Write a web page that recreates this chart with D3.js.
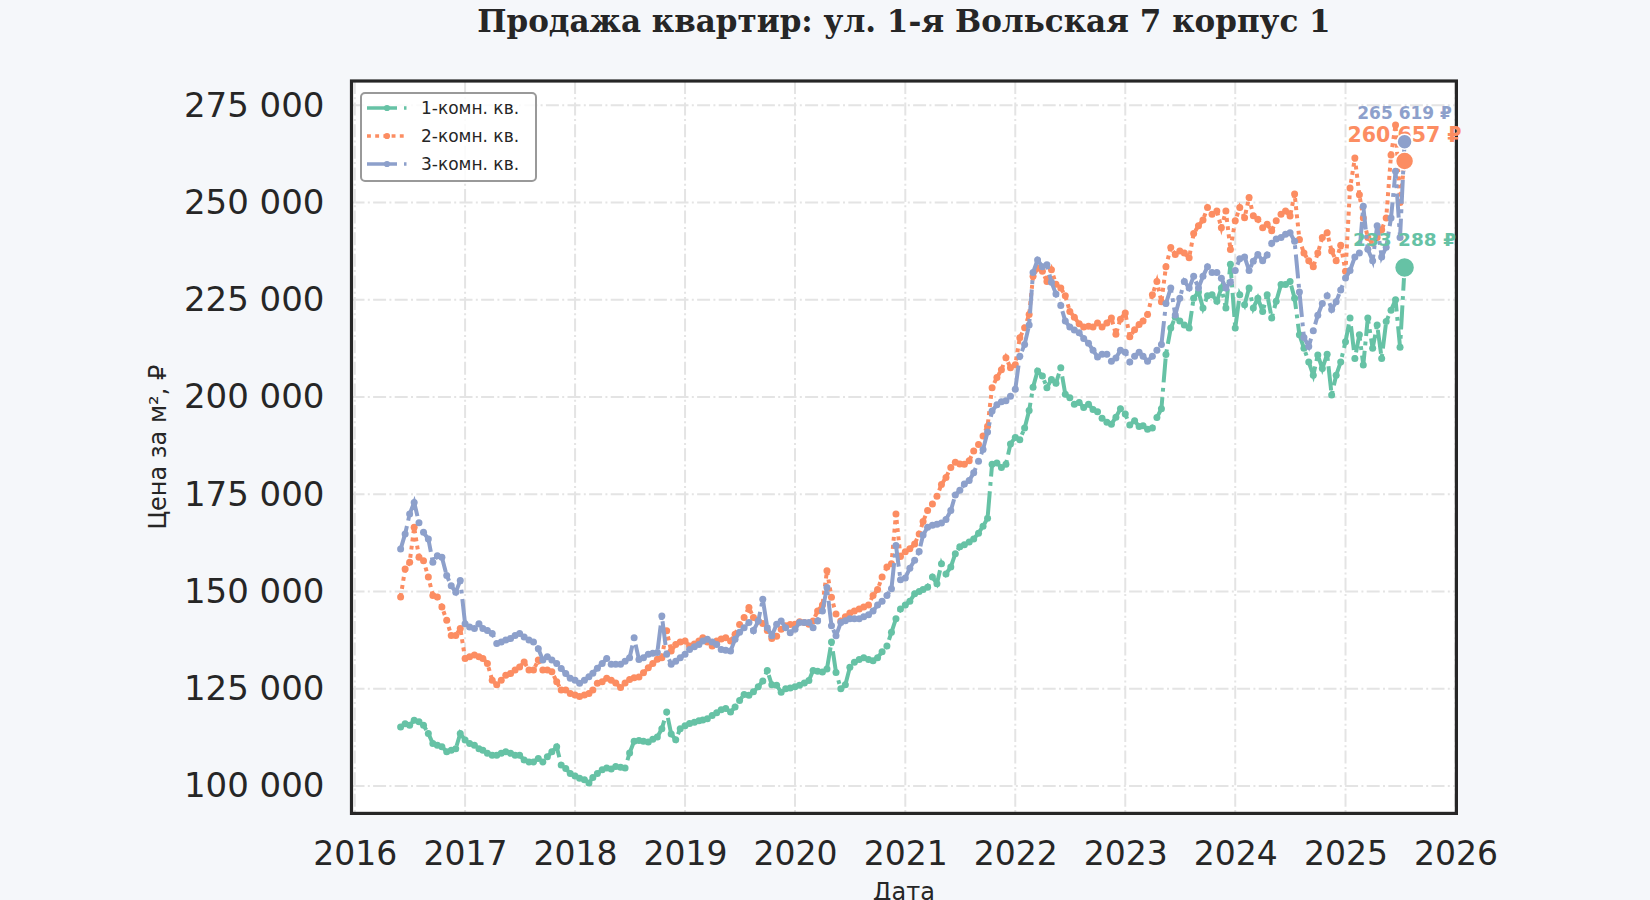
<!DOCTYPE html>
<html lang="ru">
<head>
<meta charset="utf-8">
<script src="https://cdn.jsdelivr.net/npm/d3@7"></script>
<style>
  html, body { margin: 0; padding: 0; background: #f5f7fa; }
  svg { display: block; }
</style>
</head>
<body>
<div id="chart"></div>
<script>
// --- Data (price per m², thousand ₽, sampled on the 1st and 16th of each month) ---
const TITLE = "Продажа квартир: ул. 1-я Вольская 7 корпус 1";
const firstMonth = [2016, 5]; // June 2016
const lastMonth = [2025, 6];  // July 2025

const seriesNames = ["1-комн. кв.", "2-комн. кв.", "3-комн. кв."];

const oneRoom = [
  // 2016
  115.2, 116.0, 115.6, 116.9, 116.5, 115.6, 113.5, 110.9, 110.5, 110.1, 108.8, 109.2, 109.6, 113.5,
  // 2017
  111.8, 110.9, 110.5, 109.6, 109.2, 108.4, 107.9, 107.9, 108.4, 108.8, 108.4, 107.9,
  107.9, 106.7, 106.2, 106.2, 107.1, 106.2, 107.5, 108.8, 110.1, 105.4, 104.5, 103.2,
  // 2018
  102.6, 102.0, 101.6, 100.8, 102.2, 103.2, 104.2, 104.6, 104.4, 105.0, 104.8, 104.6,
  108.5, 111.5, 111.7, 111.5, 111.3, 112.0, 112.6, 114.7, 119.0, 113.4, 111.9, 114.7,
  // 2019
  115.5, 116.1, 116.4, 116.8, 117.0, 117.3, 118.1, 118.8, 119.6, 119.9, 119.0, 120.3,
  122.0, 123.5, 123.3, 124.2, 125.5, 127.0, 129.7, 126.0, 125.9, 124.1, 125.0, 125.2,
  // 2020
  125.5, 125.9, 126.5, 127.1, 129.7, 129.5, 129.3, 130.1, 137.0, 129.2, 125.0, 126.0,
  130.5, 131.8, 132.5, 133.0, 132.5, 132.2, 133.0, 134.5, 136.0, 139.5, 143.0, 145.5,
  // 2021
  146.5, 147.5, 149.4, 150.0, 150.5, 151.1, 153.7, 152.0, 157.1, 154.5, 156.3, 159.7,
  161.5, 162.0, 162.7, 163.5, 165.0, 166.8, 168.8, 182.7, 183.0, 181.9, 182.7, 187.9,
  // 2022
  189.6, 189.0, 192.0, 196.5, 202.5, 206.7, 205.4, 202.4, 204.5, 203.5, 207.5, 200.7,
  199.8, 198.1, 198.6, 197.3, 198.1, 196.8, 196.2, 194.5, 193.5, 193.0, 194.8, 197.0,
  // 2023
  195.6, 192.8, 193.9, 192.4, 192.6, 191.7, 192.0, 194.7, 197.0, 210.9, 217.7, 220.5,
  219.5, 218.5, 217.7, 225.4, 227.0, 222.9, 226.0, 226.3, 224.6, 228.0, 222.9, 234.1,
  // 2024
  217.7, 226.3, 223.7, 228.0, 222.9, 225.4, 222.0, 226.3, 220.3, 224.6, 228.9, 228.9,
  229.7, 225.4, 216.0, 212.5, 209.0, 205.6, 210.8, 207.3, 211.0, 200.5, 205.6, 209.0,
  // 2025
  214.2, 220.3, 209.9, 216.0, 208.2, 220.3, 212.5, 218.5, 209.9, 219.4, 222.3, 225.0, 212.8, 233.288
];

const twoRoom = [
  // 2016
  148.6, 155.8, 157.5, 166.5, 158.8, 157.9, 153.7, 149.0, 148.6, 146.0, 142.6, 138.7, 138.7, 140.5,
  // 2017
  132.8, 133.2, 133.7, 133.2, 132.8, 131.5, 127.2, 126.0, 127.2, 128.5, 128.9, 129.8,
  130.6, 131.9, 129.8, 129.8, 132.4, 129.8, 129.8, 129.4, 126.8, 124.7, 124.7, 123.8,
  // 2018
  123.4, 123.0, 123.4, 123.8, 124.7, 126.4, 126.8, 127.7, 127.2, 126.5, 125.3, 126.5,
  127.4, 127.8, 128.0, 129.1, 130.4, 131.5, 132.6, 133.0, 139.9, 134.7, 136.4, 137.0,
  // 2019
  137.3, 136.0, 136.5, 137.3, 138.1, 137.0, 136.0, 137.3, 137.8, 138.1, 137.3, 139.0,
  141.5, 143.3, 145.9, 143.3, 142.4, 141.8, 140.0, 137.9, 138.5, 140.3, 141.2, 141.5,
  // 2020
  141.6, 142.2, 142.0, 141.6, 142.4, 145.0, 146.5, 155.3, 148.5, 144.2, 142.4, 143.5,
  144.5, 145.0, 145.5, 146.0, 146.5, 149.0, 150.5, 153.7, 156.3, 157.1, 169.9, 159.0,
  // 2021
  160.2, 161.0, 162.2, 164.8, 168.0, 170.8, 172.5, 174.5, 177.5, 179.3, 181.9, 183.2,
  182.8, 182.7, 183.6, 186.1, 187.8, 190.0, 192.5, 202.4, 205.0, 207.0, 210.1, 207.5,
  // 2022
  208.3, 215.2, 217.8, 221.2, 231.0, 233.1, 232.3, 229.7, 232.7, 229.0, 228.0, 226.0,
  222.0, 220.5, 218.8, 218.0, 218.2, 218.0, 219.0, 218.0, 219.0, 220.3, 216.1, 220.0,
  // 2023
  221.6, 215.5, 217.3, 218.6, 219.5, 221.2, 226.3, 229.7, 224.5, 233.5, 238.4, 236.6,
  237.5, 237.0, 235.8, 242.0, 244.0, 245.5, 248.7, 247.0, 247.8, 243.5, 247.8, 237.9,
  // 2024
  245.3, 248.7, 246.1, 251.3, 246.6, 245.7, 243.5, 244.4, 242.7, 245.3, 247.0, 247.8,
  246.5, 252.2, 240.5, 237.0, 235.0, 233.5, 237.0, 241.0, 242.2, 237.5, 235.0, 239.0,
  // 2025
  232.3, 253.7, 261.4, 252.0, 246.0, 241.0, 239.5, 241.0, 243.0, 246.0, 262.2, 269.9, 250.0, 260.657
];

const threeRoom = [
  // 2016
  160.9, 164.8, 169.9, 172.9, 167.7, 165.2, 163.5, 157.5, 159.2, 158.8, 154.1, 151.5, 149.8, 152.8,
  // 2017
  141.7, 140.9, 140.5, 141.7, 140.5, 140.0, 139.2, 136.6, 137.0, 137.5, 137.9, 138.7,
  139.2, 138.3, 137.5, 137.0, 135.3, 132.4, 133.2, 132.4, 131.5, 130.2, 128.9, 127.7,
  // 2018
  127.2, 126.4, 127.2, 128.1, 129.0, 130.3, 131.5, 132.8, 131.3, 131.3, 131.3, 132.1,
  133.0, 138.1, 132.5, 133.0, 133.9, 134.1, 134.3, 143.7, 133.9, 131.3, 132.1, 133.0,
  // 2019
  133.9, 135.1, 135.8, 136.4, 137.3, 137.7, 137.0, 136.4, 135.1, 134.9, 134.7, 137.7,
  139.5, 140.7, 142.0, 139.9, 142.4, 148.0, 140.7, 138.6, 141.6, 142.4, 140.7, 139.4,
  // 2020
  140.3, 142.0, 142.0, 142.0, 140.7, 142.4, 145.0, 151.0, 141.2, 138.6, 142.0, 142.5,
  143.0, 143.0, 143.0, 143.5, 144.0, 145.0, 146.5, 147.5, 149.0, 150.7, 161.8, 153.0,
  // 2021
  153.5, 156.0, 158.0, 160.3, 164.5, 166.5, 167.0, 167.3, 167.6, 168.5, 170.8, 174.8,
  176.0, 177.6, 178.5, 180.5, 183.5, 186.5, 191.0, 196.4, 198.0, 198.8, 199.0, 200.2,
  // 2022
  202.0, 210.5, 213.5, 218.5, 232.0, 235.2, 233.5, 234.0, 229.5, 226.5, 223.5, 219.5,
  218.0, 217.2, 216.5, 215.0, 213.8, 212.0, 210.3, 211.0, 211.0, 209.2, 210.0, 212.0,
  // 2023
  211.5, 209.0, 210.5, 211.5, 210.5, 209.2, 210.5, 212.0, 213.5, 224.0, 228.0, 221.1,
  225.4, 229.7, 228.0, 231.0, 228.0, 231.0, 233.5, 232.0, 232.0, 230.5, 228.0, 229.5,
  // 2024
  232.5, 235.5, 236.0, 232.5, 234.9, 236.6, 235.0, 236.5, 239.5, 240.6, 241.0, 241.8,
  242.2, 240.0, 227.0, 215.3, 213.0, 217.0, 221.0, 224.0, 226.0, 222.5, 224.5, 227.5,
  // 2025
  230.6, 232.5, 236.0, 237.0, 249.0, 238.0, 235.0, 244.0, 236.0, 238.5, 246.0, 258.0, 241.0, 265.619
];

const yTicks = [100000, 125000, 150000, 175000, 200000, 225000, 250000, 275000];
const xTickYears = [2016, 2017, 2018, 2019, 2020, 2021, 2022, 2023, 2024, 2025, 2026];

// --- Styles ---
const colors = ["#66c2a5", "#fc8d62", "#8da0cb"];
const dashes = ["24,5.5,3.8,5.5", "3.9,4.3", "24,5.5,3.8,5.5"];
const legendDashes = ["30,7,2.5,7", "3.9,4.3", "30,7,2.5,7"];
const endFont = [18.5, 20.5, 17];
const endRadius = [10, 9, 7.5];
const endOffset = [21, 19, 23];
const lineWidth = 4;
const markerR = 3.5;

const width = 1650;
const height = 900;
const margin = { top: 81, right: 193.6, bottom: 86.6, left: 351.5 };
const innerWidth = width - margin.left - margin.right;
const innerHeight = height - margin.top - margin.bottom;

// sampling dates: 1st and 16th of every month
const dates = [];
d3.timeMonth
  .range(new Date(firstMonth[0], firstMonth[1], 1), new Date(lastMonth[0], lastMonth[1] + 1, 1))
  .forEach((m) => {
    dates.push(m);
    dates.push(d3.timeDay.offset(m, 15));
  });

const allData = [oneRoom, twoRoom, threeRoom].map((vals, i) => ({
  name: seriesNames[i],
  values: vals.map((v, j) => ({ date: dates[j], price: v * 1000 })),
}));

const svg = d3
  .select("#chart")
  .append("svg")
  .attr("width", width)
  .attr("height", height);

svg.append("rect").attr("width", width).attr("height", height).attr("fill", "#f5f7fa");

const g = svg.append("g").attr("transform", `translate(${margin.left},${margin.top})`);

const x = d3
  .scaleTime()
  .domain([new Date(2015, 11, 21), new Date(2026, 0, 4)])
  .range([0, innerWidth]);

const y = d3.scaleLinear().domain([92960, 281220]).range([innerHeight, 0]);

// plot area
g.append("rect").attr("width", innerWidth).attr("height", innerHeight).attr("fill", "#ffffff");

svg
  .append("defs")
  .append("clipPath")
  .attr("id", "plot-clip")
  .append("rect")
  .attr("width", innerWidth)
  .attr("height", innerHeight);

// grid
const grid = g.append("g").attr("class", "grid");
grid
  .selectAll(".hgrid")
  .data(yTicks)
  .enter()
  .append("line")
  .attr("x1", 0)
  .attr("x2", innerWidth)
  .attr("y1", (d) => y(d))
  .attr("y2", (d) => y(d))
  .attr("stroke", "#e4e4e4")
  .attr("stroke-width", 2)
  .attr("stroke-dasharray", "13,3.3,2,3.3");

grid
  .selectAll(".vgrid")
  .data(xTickYears)
  .enter()
  .append("line")
  .attr("x1", (d) => x(new Date(d, 0, 1)))
  .attr("x2", (d) => x(new Date(d, 0, 1)))
  .attr("y1", 0)
  .attr("y2", innerHeight)
  .attr("stroke", "#e4e4e4")
  .attr("stroke-width", 2)
  .attr("stroke-dasharray", "13,3.3,2,3.3");

// axes (labels only, no tick marks)
const fmt = (v) => d3.format(",")(v).replace(/,/g, " ");

const yAxis = d3.axisLeft(y).tickValues(yTicks).tickFormat(fmt).tickSize(0).tickPadding(27);
const yg = g.append("g").call(yAxis);
yg.select(".domain").remove();
yg.selectAll("text")
  .style("font-family", "'DejaVu Sans', sans-serif")
  .style("font-size", "34px")
  .attr("fill", "#262626");

const xAxis = d3
  .axisBottom(x)
  .tickValues(xTickYears.map((d) => new Date(d, 0, 1)))
  .tickFormat(d3.timeFormat("%Y"))
  .tickSize(0)
  .tickPadding(28);
const xg = g.append("g").attr("transform", `translate(0,${innerHeight})`).call(xAxis);
xg.select(".domain").remove();
xg.selectAll("text")
  .style("font-family", "'DejaVu Sans', sans-serif")
  .style("font-size", "33px")
  .attr("fill", "#262626");

// lines + markers
const line = d3
  .line()
  .x((d) => x(d.date))
  .y((d) => y(d.price));

const plot = g.append("g").attr("clip-path", "url(#plot-clip)");

allData.forEach((s, i) => {
  const sg = plot.append("g").attr("class", "series");
  sg.append("path")
    .attr("d", line(s.values))
    .attr("fill", "none")
    .attr("stroke", colors[i])
    .attr("stroke-width", lineWidth)
    .attr("stroke-dasharray", dashes[i]);
  sg.selectAll("circle")
    .data(s.values)
    .enter()
    .append("circle")
    .attr("cx", (d) => x(d.date))
    .attr("cy", (d) => y(d.price))
    .attr("r", markerR)
    .attr("fill", colors[i]);
});

// spine
g.append("rect")
  .attr("width", innerWidth)
  .attr("height", innerHeight)
  .attr("fill", "none")
  .attr("stroke", "#262626")
  .attr("stroke-width", 3.2);

// last values
allData.forEach((s, i) => {
  const last = s.values[s.values.length - 1];
  g.append("circle")
    .attr("cx", x(last.date))
    .attr("cy", y(last.price))
    .attr("r", endRadius[i])
    .attr("fill", colors[i])
    .attr("stroke", "#ffffff")
    .attr("stroke-width", 1.5);
  g.append("text")
    .attr("x", x(last.date))
    .attr("y", y(last.price) - endOffset[i])
    .attr("text-anchor", "middle")
    .style("font-family", "'DejaVu Sans', sans-serif")
    .style("font-weight", "bold")
    .style("font-size", endFont[i] + "px")
    .attr("fill", colors[i])
    .text(fmt(Math.round(last.price)) + " ₽");
});

// legend
const legend = g.append("g").attr("transform", "translate(9.5,12)");
legend
  .append("rect")
  .attr("width", 175)
  .attr("height", 88)
  .attr("rx", 4)
  .attr("fill", "#ffffff")
  .attr("fill-opacity", 0.85)
  .attr("stroke", "#999999")
  .attr("stroke-width", 2);

const items = legend
  .selectAll(".legend-item")
  .data(allData)
  .enter()
  .append("g")
  .attr("class", "legend-item")
  .attr("transform", (d, i) => `translate(0,${15 + i * 28})`);

items
  .append("line")
  .attr("x1", 6)
  .attr("x2", 46)
  .attr("stroke", (d, i) => colors[i])
  .attr("stroke-width", 3.6)
  .attr("stroke-dasharray", (d, i) => legendDashes[i]);

items
  .append("circle")
  .attr("cx", 26)
  .attr("r", 3.1)
  .attr("fill", (d, i) => colors[i]);

items
  .append("text")
  .attr("x", 60)
  .attr("dy", "0.35em")
  .style("font-family", "'DejaVu Sans', sans-serif")
  .style("font-size", "17px")
  .attr("fill", "#262626")
  .text((d) => d.name);

// titles
svg.append("text")
  .attr("x", margin.left + innerWidth / 2)
  .attr("y", 32)
  .attr("text-anchor", "middle")
  .style("font-family", "'DejaVu Serif', serif")
  .style("font-weight", "bold")
  .style("font-size", "31px")
  .attr("fill", "#262626")
  .text(TITLE);

svg.append("text")
  .attr("transform", `translate(158,${margin.top + innerHeight / 2}) rotate(-90)`)
  .attr("text-anchor", "middle")
  .attr("dy", "0.35em")
  .style("font-family", "'DejaVu Sans', sans-serif")
  .style("font-size", "24px")
  .attr("fill", "#262626")
  .text("Цена за м², ₽");

svg.append("text")
  .attr("x", margin.left + innerWidth / 2)
  .attr("y", 900)
  .attr("text-anchor", "middle")
  .style("font-family", "'DejaVu Sans', sans-serif")
  .style("font-size", "24px")
  .attr("fill", "#262626")
  .text("Дата");
</script>
</body>
</html>
